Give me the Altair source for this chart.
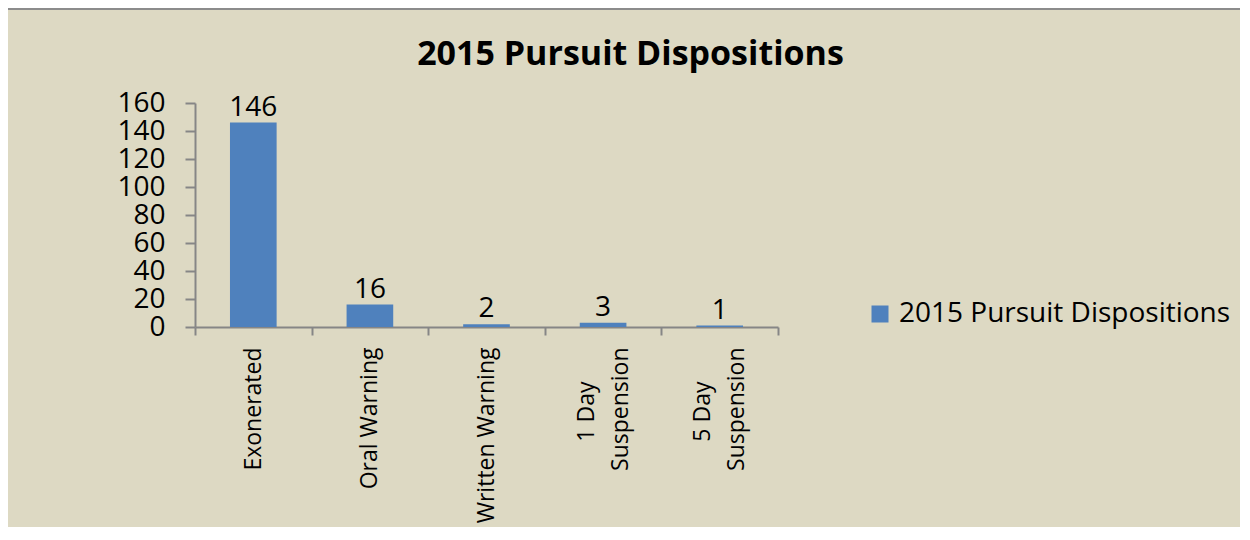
import altair as alt
import pandas as pd

categories = ["Exonerated", "Oral Warning", "Written Warning", "1 Day|Suspension", "5 Day|Suspension"]
values = [146, 16, 2, 3, 1]
series = ["2015 Pursuit Dispositions"] * len(categories)
title_text = "2015 Pursuit Dispositions"
y_ticks = [0, 20, 40, 60, 80, 100, 120, 140, 160]

df = pd.DataFrame({"category": categories, "value": values, "series": series})

BG = "#DDD9C3"
BAR = "#4F81BD"
AX = "#868686"
FONT = "Open Sans"

# single-line labels get a blank first line, two-line labels a blank middle line,
# so that (with labelOffset = -lineHeight) every label block is centred on its band.
label_expr = (
    "indexof(datum.label, '|') >= 0 ? "
    "[split(datum.label, '|')[0] + '\u2800\u2800', '\u2800', split(datum.label, '|')[1]] "
    ": ['\u00a0', datum.label]"
)

x_axis = alt.Axis(
    title=None,
    labelAngle=270,
    labelExpr=label_expr,
    labelFont=FONT,
    labelFontSize=23,
    labelColor="#000000",
    labelLineHeight=17,
    labelOffset=-17,
    labelPadding=12,
    labelLimit=300,
    tickBand="extent",
    tickSize=8,
    tickColor=AX,
    domainColor=AX,
    domainWidth=2,
    tickWidth=2,
    grid=False,
)

y_axis = alt.Axis(
    title=None,
    values=y_ticks,
    labelOverlap=False,
    labelFont=FONT,
    labelFontSize=28,
    labelColor="#000000",
    labelPadding=20,
    tickSize=10,
    tickColor=AX,
    domainColor=AX,
    domainWidth=2,
    tickWidth=2,
    grid=False,
)

x_enc = alt.X(
    "category:N",
    sort=categories,
    scale=alt.Scale(paddingInner=0, paddingOuter=0),
    axis=x_axis,
)
y_enc = alt.Y("value:Q", scale=alt.Scale(domain=[0, 160], nice=False), axis=y_axis)

base = alt.Chart(df)

bars = base.mark_bar(color=BAR, width=alt.RelativeBandSize(0.4)).encode(
    x=x_enc,
    y=y_enc,
    color=alt.Color(
        "series:N",
        scale=alt.Scale(range=[BAR]),
        legend=alt.Legend(
            title=None,
            orient="none",
            legendX=671,
            legendY=197,
            symbolType="square",
            symbolSize=289,
            symbolStrokeWidth=0,
            symbolOpacity=1,
            labelFont=FONT,
            labelFontSize=28,
            labelColor="#000000",
            labelOffset=5,
            labelLimit=500,
        ),
    ),
)

labels = base.mark_text(
    baseline="bottom", dy=-1, font=FONT, fontSize=28, color="#000000"
).encode(
    x=x_enc,
    y=y_enc,
    text=alt.Text("value:Q"),
)

border_left = base.mark_rule(color="#8C8C8C", strokeWidth=2).encode(
    x=alt.value(-188), y=alt.value(-94), y2=alt.value(440)
)
border_top = base.mark_rule(color="#8C8C8C", strokeWidth=2).encode(
    x=alt.value(-188), x2=alt.value(1060), y=alt.value(-94)
)

chart = (
    alt.layer(border_left, border_top, bars, labels)
    .properties(
        width=583,
        height=224,
        background=BG,
        padding={"left": 187, "top": 95, "right": 462, "bottom": 200},
        autosize=alt.AutoSizeParams(type="none"),
        title=alt.TitleParams(
            text=title_text,
            font=FONT,
            fontSize=34,
            fontWeight="bold",
            color="#000000",
            anchor="middle",
            dx=144,
            offset=-64,
        ),
    )
    .configure_view(stroke=None)
)

chart.save("out.html", embed_options={"renderer": "svg", "actions": False})
